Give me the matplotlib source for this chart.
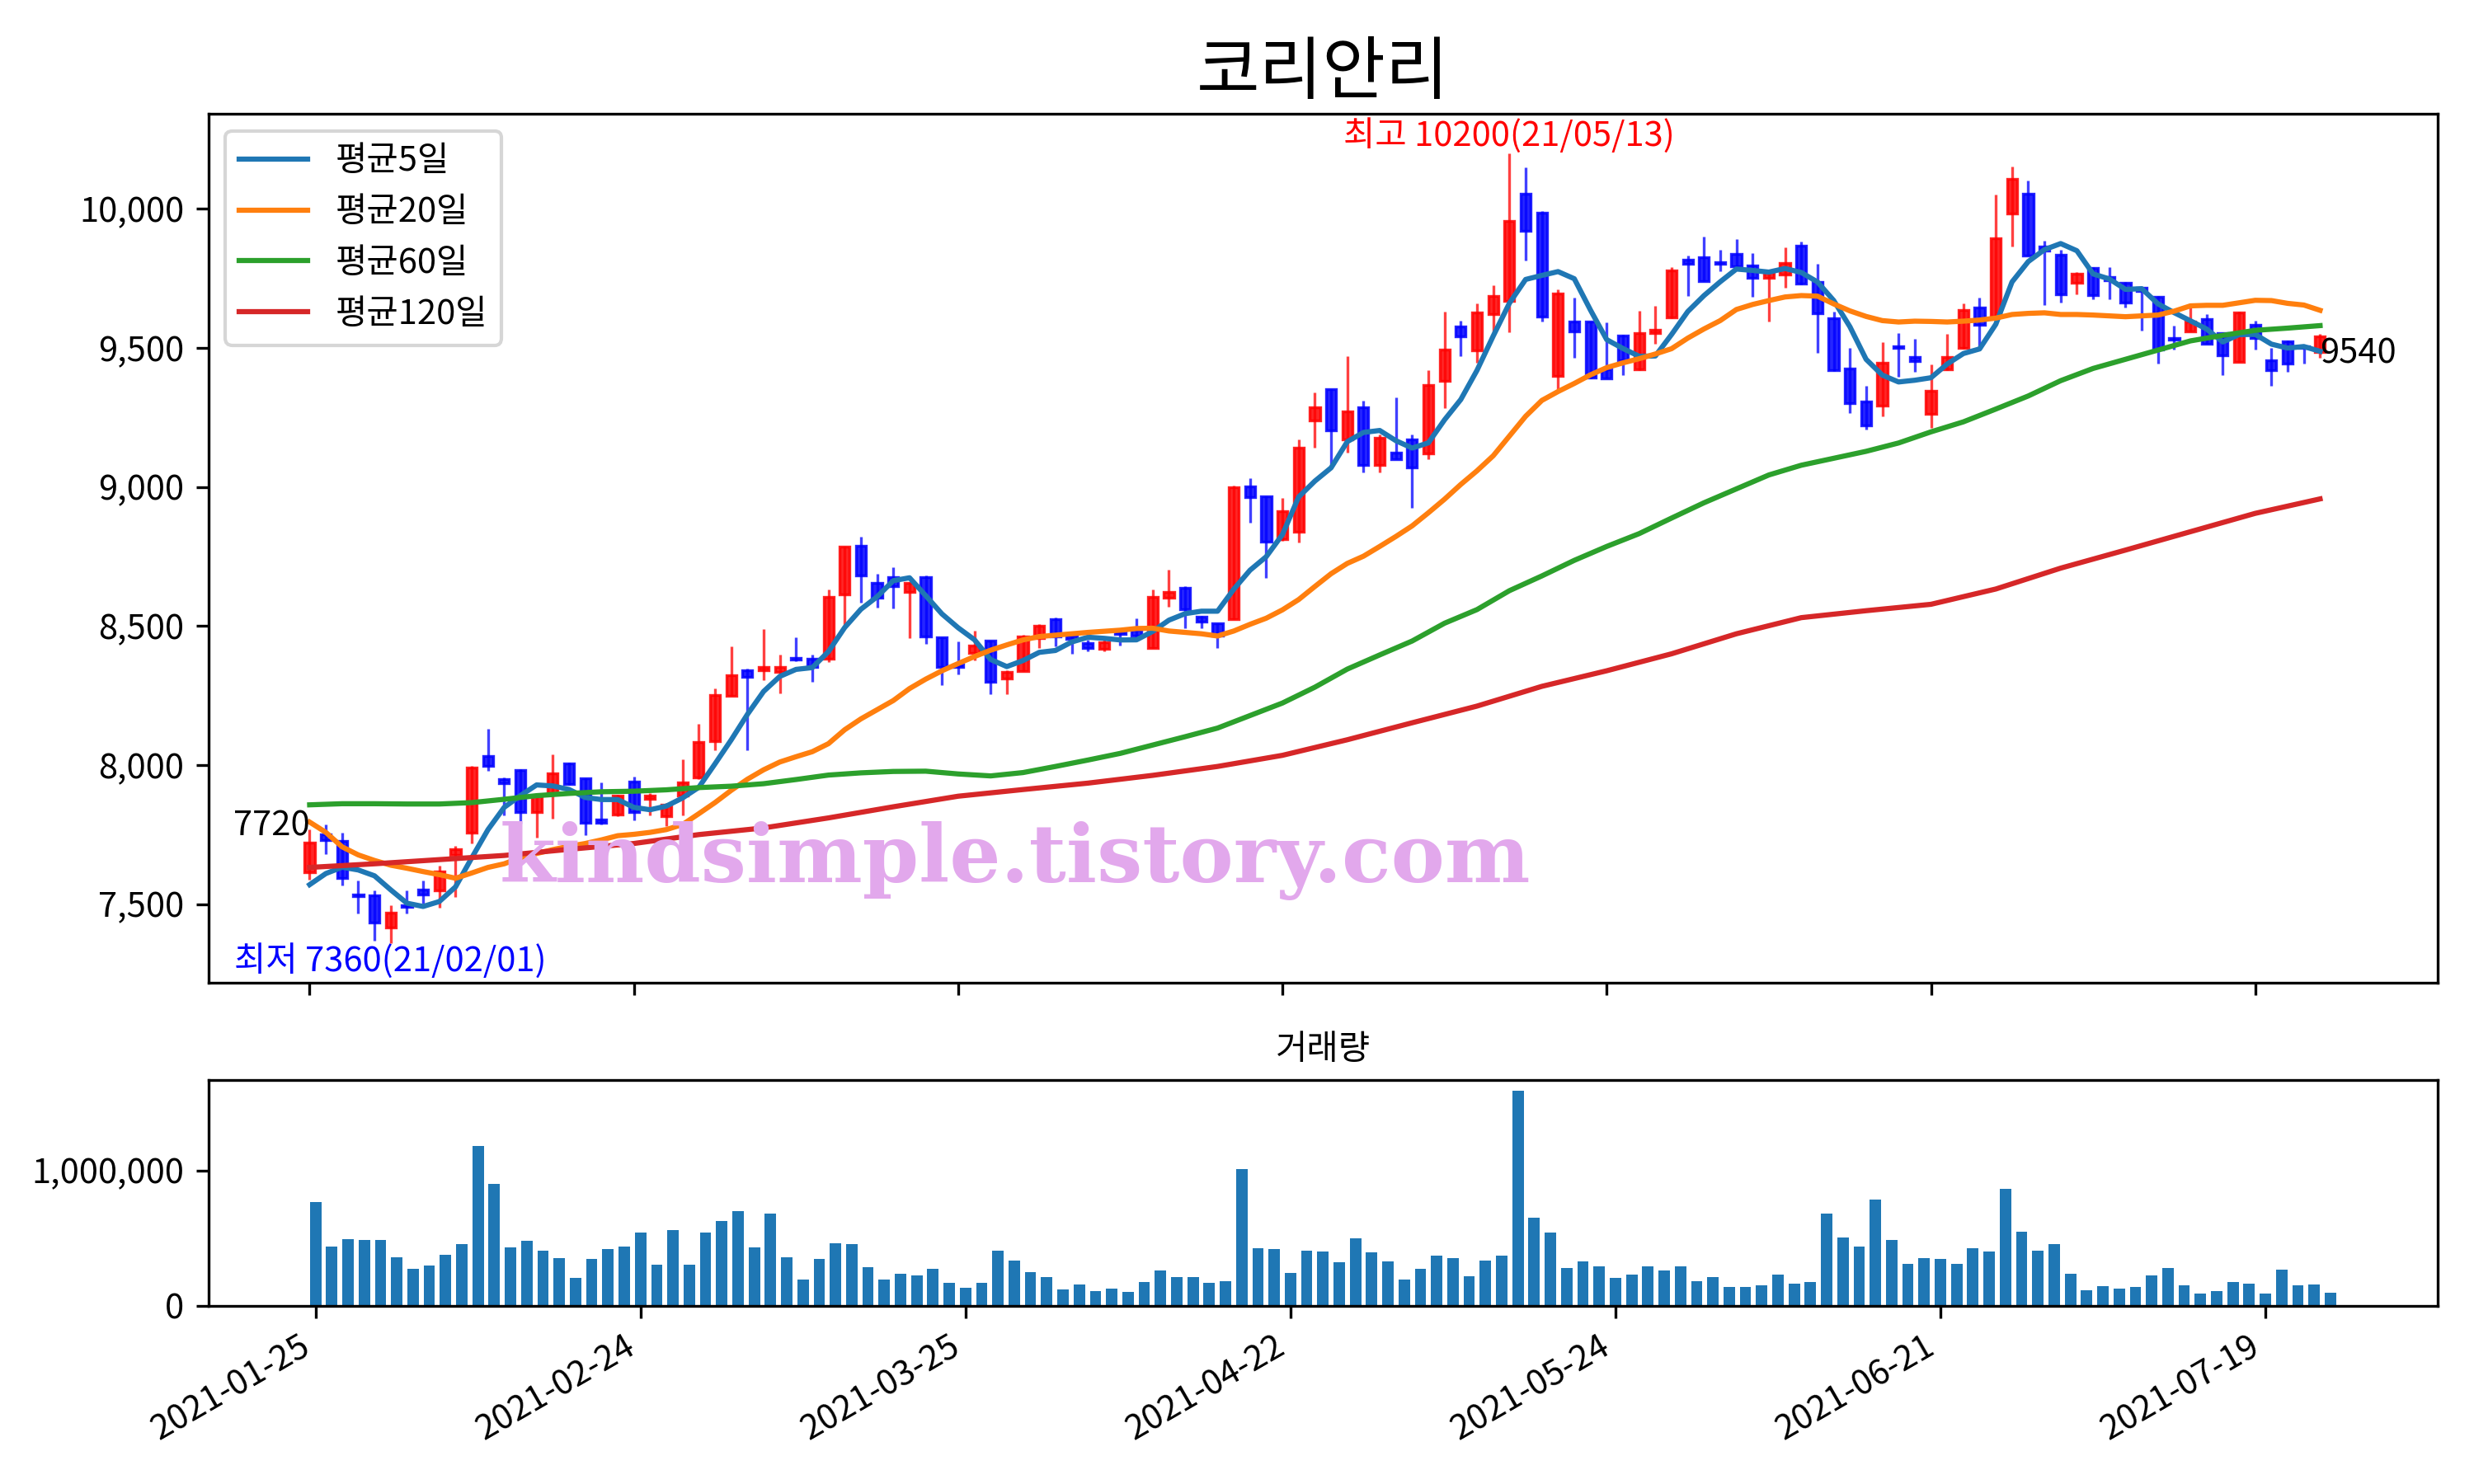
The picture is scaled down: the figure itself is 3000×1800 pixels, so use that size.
import matplotlib
matplotlib.use('Agg')
import numpy as np
import pandas as pd
from matplotlib import pyplot as plt
from matplotlib.ticker import FuncFormatter

plt.rcParams['font.family'] = ['Noto Sans CJK KR', 'DejaVu Sans']

title = '코리안리'

# daily candles, 2021-01-25 .. 2021-07-23 (trading-day index on the x axis)
opens = [7615, 7750, 7728, 7535, 7532, 7417, 7495, 7552, 7548, 7677,
         7756, 8032, 7950, 7981, 7830, 7899, 8005, 7953, 7803, 7822,
         7940, 7877, 7817, 7891, 7956, 8087, 8248, 8342, 8340, 8334,
         8386, 8382, 8383, 8613, 8788, 8656, 8675, 8622, 8676, 8459,
         8361, 8404, 8448, 8312, 8339, 8455, 8525, 8465, 8440, 8417,
         8478, 8487, 8422, 8602, 8638, 8533, 8510, 8526, 9003, 8966,
         8812, 8840, 9240, 9353, 9172, 9285, 9080, 9124, 9172, 9119,
         9382, 9577, 9491, 9620, 9670, 10055, 9987, 9400, 9594, 9594,
         9423, 9545, 9422, 9552, 9610, 9816, 9825, 9808, 9838, 9796,
         9753, 9763, 9866, 9738, 9606, 9426, 9306, 9293, 9505, 9466,
         9263, 9423, 9500, 9646, 9613, 9983, 10055, 9865, 9835, 9733,
         9786, 9755, 9733, 9715, 9684, 9535, 9560, 9605, 9552, 9448,
         9583, 9454, 9523, 9505, 9486]
highs = [7768, 7787, 7758, 7586, 7548, 7497, 7548, 7586, 7637, 7708,
         7998, 8129, 7955, 7985, 7894, 8037, 8008, 7953, 7937, 7894,
         7957, 7899, 7863, 8020, 8148, 8277, 8428, 8346, 8490, 8398,
         8458, 8396, 8630, 8784, 8820, 8689, 8712, 8658, 8683, 8459,
         8446, 8484, 8448, 8342, 8467, 8506, 8530, 8465, 8450, 8450,
         8480, 8528, 8630, 8701, 8643, 8536, 8511, 9005, 9030, 8966,
         8961, 9172, 9339, 9353, 9471, 9311, 9190, 9321, 9190, 9420,
         9630, 9599, 9661, 9725, 10200, 10150, 9991, 9711, 9682, 9594,
         9592, 9548, 9632, 9652, 9790, 9833, 9901, 9853, 9891, 9841,
         9780, 9861, 9883, 9803, 9630, 9501, 9362, 9522, 9552, 9531,
         9442, 9551, 9660, 9682, 10051, 10153, 10103, 9884, 9854, 9772,
         9790, 9790, 9736, 9717, 9686, 9580, 9659, 9620, 9555, 9629,
         9599, 9501, 9527, 9508, 9549]
lows = [7588, 7681, 7568, 7466, 7370, 7360, 7467, 7501, 7487, 7527,
        7718, 7980, 7819, 7788, 7739, 7807, 7928, 7747, 7785, 7815,
        7800, 7820, 7781, 7818, 7950, 8052, 8248, 8052, 8306, 8258,
        8372, 8300, 8370, 8502, 8584, 8565, 8564, 8456, 8436, 8288,
        8326, 8377, 8255, 8255, 8339, 8422, 8427, 8399, 8409, 8410,
        8429, 8455, 8421, 8568, 8492, 8492, 8421, 8525, 8872, 8674,
        8805, 8800, 9141, 9081, 9124, 9053, 9053, 9100, 8924, 9101,
        9282, 9471, 9445, 9552, 9555, 9814, 9594, 9353, 9464, 9389,
        9389, 9403, 9420, 9516, 9606, 9686, 9741, 9776, 9790, 9685,
        9596, 9715, 9728, 9483, 9416, 9265, 9206, 9255, 9395, 9415,
        9213, 9420, 9497, 9500, 9613, 9863, 9832, 9654, 9662, 9692,
        9675, 9675, 9646, 9563, 9443, 9494, 9558, 9514, 9402, 9448,
        9494, 9364, 9413, 9443, 9465]
closes = [7720, 7730, 7594, 7530, 7435, 7468, 7490, 7535, 7619, 7699,
          7990, 7996, 7936, 7830, 7891, 7971, 7933, 7792, 7793, 7891,
          7830, 7891, 7857, 7939, 8082, 8252, 8322, 8316, 8352, 8352,
          8378, 8354, 8604, 8784, 8681, 8603, 8643, 8656, 8462, 8353,
          8354, 8429, 8300, 8334, 8462, 8501, 8463, 8452, 8420, 8442,
          8472, 8465, 8604, 8622, 8559, 8516, 8465, 9000, 8963, 8802,
          8914, 9141, 9285, 9202, 9272, 9080, 9176, 9101, 9070, 9365,
          9495, 9540, 9626, 9687, 9956, 9921, 9613, 9694, 9559, 9392,
          9390, 9454, 9554, 9564, 9778, 9803, 9741, 9802, 9793, 9753,
          9773, 9806, 9730, 9623, 9420, 9301, 9220, 9446, 9500, 9451,
          9346, 9466, 9635, 9583, 9895, 10106, 9832, 9850, 9692, 9766,
          9689, 9742, 9662, 9705, 9494, 9530, 9596, 9514, 9472, 9626,
          9534, 9421, 9443, 9500, 9540]
# last four closes before the window (needed for the first 5-day averages)
prev_closes = [7530, 7480, 7580, 7540]

volume = [768000, 440000, 489000, 483000, 483000, 356000, 271000, 295000, 374000, 453000,
          1180000, 901000, 434000, 477000, 404000, 349000, 204000, 343000, 416000, 440000,
          543000, 301000, 556000, 301000, 543000, 628000, 701000, 434000, 683000, 356000,
          192000, 343000, 459000, 453000, 283000, 192000, 234000, 222000, 271000, 168000,
          131000, 168000, 404000, 331000, 246000, 210000, 119000, 156000, 107000, 125000,
          101000, 174000, 259000, 210000, 210000, 168000, 180000, 1010000, 428000, 416000,
          240000, 404000, 398000, 319000, 495000, 392000, 325000, 192000, 271000, 368000,
          349000, 216000, 331000, 368000, 1586000, 653000, 543000, 277000, 325000, 289000,
          204000, 228000, 289000, 259000, 289000, 180000, 210000, 137000, 137000, 149000,
          228000, 162000, 174000, 683000, 507000, 440000, 786000, 483000, 307000, 349000,
          343000, 307000, 428000, 398000, 865000, 549000, 404000, 453000, 234000, 113000,
          143000, 125000, 137000, 222000, 277000, 149000, 89000, 107000, 174000, 162000,
          89000, 265000, 149000, 156000, 95000]

ma20 = [7795, 7758, 7706, 7677, 7657, 7640, 7629, 7617, 7606, 7593,
        7612, 7632, 7645, 7667, 7682, 7696, 7708, 7718, 7731, 7746,
        7751, 7758, 7768, 7786, 7825, 7865, 7909, 7949, 7983, 8011,
        8030, 8048, 8077, 8127, 8166, 8199, 8232, 8275, 8309, 8339,
        8365, 8390, 8413, 8432, 8450, 8462, 8467, 8472, 8477, 8481,
        8485, 8491, 8492, 8482, 8477, 8472, 8464, 8482, 8506, 8528,
        8558, 8595, 8642, 8688, 8725, 8751, 8786, 8822, 8860, 8907,
        8956, 9009, 9058, 9112, 9183, 9254, 9311, 9343, 9372, 9403,
        9429, 9446, 9461, 9478, 9497, 9535, 9568, 9598, 9638, 9656,
        9670, 9683, 9688, 9686, 9658, 9633, 9613, 9598, 9593, 9596,
        9595, 9593, 9596, 9600, 9607, 9620, 9624, 9626, 9620, 9620,
        9618, 9615, 9612, 9615, 9618, 9632, 9651, 9653, 9653, 9662,
        9671, 9670, 9660, 9654, 9635]

# 60-day average read every 2 days, 120-day average every 4 days
ma60_x = list(range(0, 125, 2))
ma60 = [7857, 7861, 7861, 7860, 7860, 7865, 7877, 7890, 7898, 7904,
        7906, 7911, 7919, 7924, 7933, 7948, 7964, 7972, 7977, 7978,
        7968, 7961, 7973, 7995, 8018, 8042, 8072, 8102, 8133, 8178,
        8223, 8280, 8345, 8396, 8446, 8510, 8559, 8627, 8680, 8736,
        8786, 8832, 8888, 8943, 8993, 9043, 9078, 9103, 9128, 9158,
        9198, 9234, 9280, 9327, 9382, 9426, 9459, 9492, 9525, 9545,
        9563, 9571, 9580]
ma120_x = list(range(0, 125, 4))
ma120 = [7632, 7645, 7660, 7675, 7697, 7718, 7750, 7774, 7810, 7850,
         7888, 7912, 7935, 7963, 7995, 8035, 8091, 8152, 8212, 8283,
         8339, 8400, 8472, 8530, 8555, 8578, 8633, 8708, 8773, 8839,
         8905, 8957]

tick_pos = [0, 20, 40, 60, 80, 100, 120]
tick_labels = ['2021-01-25', '2021-02-24', '2021-03-25', '2021-04-22',
               '2021-05-24', '2021-06-21', '2021-07-19']
high_date = '21/05/13'
low_date = '21/02/01'

n = len(closes)
x = np.arange(n)
o = np.array(opens)
h = np.array(highs)
l = np.array(lows)
c = np.array(closes)

ma5 = pd.Series(prev_closes + closes).rolling(5).mean().values[len(prev_closes):]

fig = plt.figure(figsize=(10, 6), dpi=300)
ax = fig.add_axes([0.0842, 0.3379, 0.9011, 0.5855])
axv = fig.add_axes([0.0842, 0.1201, 0.9011, 0.1520])

# candles
up = c >= o
colors = np.where(up, 'red', 'blue')
ax.vlines(x, l, h, colors=colors, linewidth=0.8, alpha=0.75)
bottoms = np.minimum(o, c)
heights = np.abs(c - o)
for i in range(n):
    col = (1, 0, 0, 0.85) if up[i] else (0, 0, 1, 0.85)
    ax.bar(x[i], heights[i], bottom=bottoms[i], width=0.62,
           facecolor=col, edgecolor=col, linewidth=0.8)

# moving averages
ax.plot(x, ma5, color='C0', label='평균5일')
ax.plot(x, ma20, color='C1', label='평균20일')
ax.plot(ma60_x, ma60, color='C2', label='평균60일')
ax.plot(ma120_x, ma120, color='C3', label='평균120일')

lo, hi = l.min(), h.max()
pad = (hi - lo) * 0.05
ax.set_ylim(lo - pad, hi + pad)
ax.set_xlim(-0.05 * n, n * 1.05)

imax = int(np.argmax(h))
imin = int(np.argmin(l))
ax.text(imax, hi, f'최고 {hi}({high_date})', color='red', ha='center', va='bottom', fontsize=10)
ax.text(imin, lo, f'최저 {lo}({low_date})', color='blue', ha='center', va='top', fontsize=10)
ax.text(0, c[0], f'{c[0]}', ha='right', va='bottom', fontsize=10)
ax.text(n - 1, c[-1], f'{c[-1]}', ha='left', va='top', fontsize=10)

ax.text(43.5, 7655, 'kindsimple.tistory.com', ha='center', va='center',
        fontsize=23.5, fontweight='bold', family='DejaVu Serif',
        color='#e2a8ec', zorder=10)

ax.yaxis.set_major_formatter(FuncFormatter(lambda v, p: f'{int(v):,}'))
ax.set_xticks(tick_pos)
ax.tick_params(labelbottom=False)
ax.legend(loc='upper left')
ax.set_title(title, fontsize=20)

# volume
axv.bar(x, volume, width=0.7, color='C0')
axv.set_xlim(-0.05 * (n - 1) - 0.4, (n - 1) * 1.05 + 0.4)
axv.set_yticks([0, 1000000])
axv.yaxis.set_major_formatter(FuncFormatter(lambda v, p: f'{int(v):,}'))
axv.set_xticks(tick_pos)
axv.set_xticklabels(tick_labels, rotation=30, ha='right')
axv.set_title('거래량', fontsize=10)

plt.savefig('out.png')
